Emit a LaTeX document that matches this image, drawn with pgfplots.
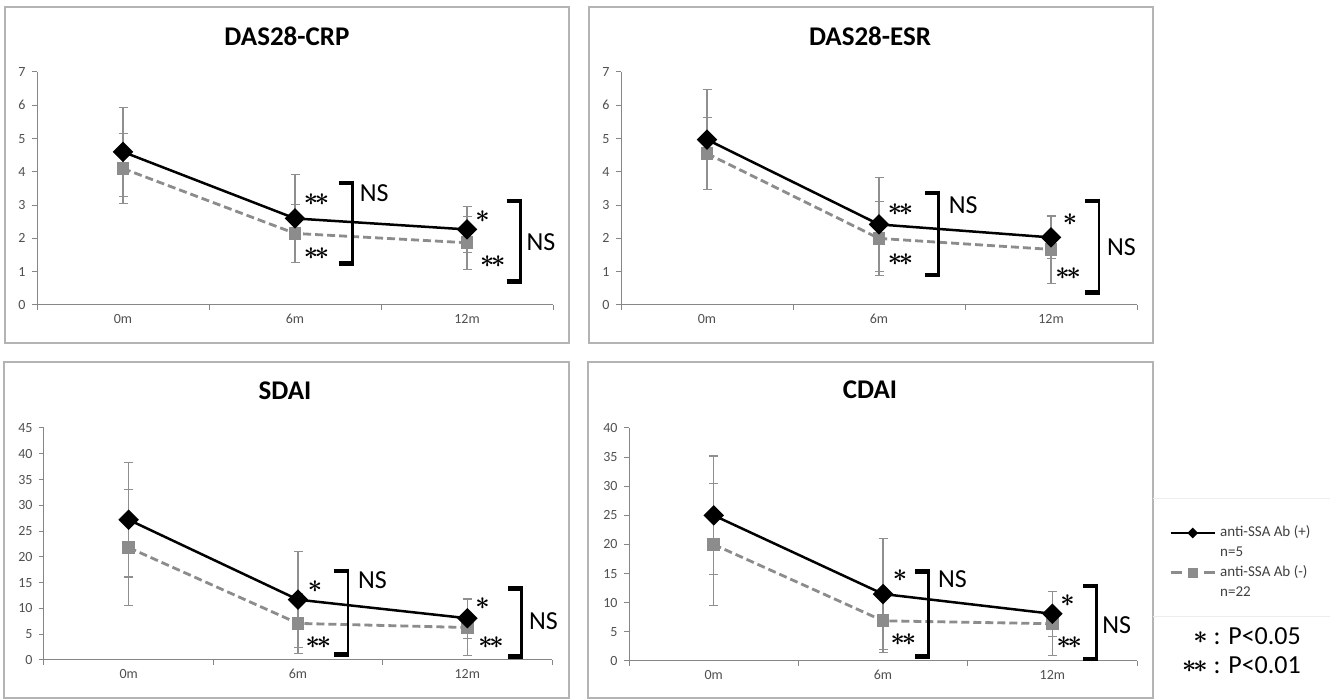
\documentclass[border=0pt]{standalone}
\usepackage{fontspec}
\setmainfont{Carlito}
\usepackage{pgfplots}
\usepackage{pgfplotstable}
\pgfplotsset{compat=1.18}
\definecolor{tickgray}{HTML}{505050}
\definecolor{axisgray}{HTML}{868686}
\definecolor{framegray}{HTML}{B4B4B4}
\definecolor{errgray}{HTML}{8F8F8F}
\definecolor{sergray}{HTML}{8C8C8C}
\definecolor{leggray}{HTML}{404040}

% DAS28-CRP
\pgfplotstableread[row sep=\\]{x y e\\ 0 4.60 1.33\\ 1 2.60 1.33\\ 2 2.27 0.70\\}\crpPos
\pgfplotstableread[row sep=\\]{x y e\\ 0 4.10 1.05\\ 1 2.15 0.88\\ 2 1.87 0.80\\}\crpNeg
% DAS28-ESR
\pgfplotstableread[row sep=\\]{x y e\\ 0 4.97 1.50\\ 1 2.42 1.42\\ 2 2.03 0.62\\}\esrPos
\pgfplotstableread[row sep=\\]{x y e\\ 0 4.55 1.08\\ 1 2.00 1.12\\ 2 1.67 1.03\\}\esrNeg
% SDAI
\pgfplotstableread[row sep=\\]{x y e\\ 0 27.2 11.1\\ 1 11.7 9.3\\ 2 8.1 3.9\\}\sdaiPos
\pgfplotstableread[row sep=\\]{x y e\\ 0 21.8 11.3\\ 1 7.1 5.8\\ 2 6.3 5.4\\}\sdaiNeg
% CDAI
\pgfplotstableread[row sep=\\]{x y e\\ 0 25.0 10.2\\ 1 11.5 9.5\\ 2 8.1 3.9\\}\cdaiPos
\pgfplotstableread[row sep=\\]{x y e\\ 0 20.0 10.4\\ 1 6.9 5.5\\ 2 6.4 5.5\\}\cdaiNeg

\newcommand{\brk}[4]{%
  \draw[line width=4.5pt] (axis cs:#1,#3) -- ([xshift=1.25pt]axis cs:#2,#3);
  \draw[line width=4.5pt] (axis cs:#1,#4) -- ([xshift=1.25pt]axis cs:#2,#4);
  \draw[line width=2.5pt] ([yshift=2.25pt]axis cs:#2,#3) -- ([yshift=-2.25pt]axis cs:#2,#4);
}
\newcommand{\as}{{\boldmath$\mathord{\ast}$}}
\newcommand{\aas}{{\boldmath$\mathord{\ast}\mkern-2mu\mathord{\ast}$}}
\tikzset{
  ast/.style={font=\fontsize{30}{32}\selectfont, inner sep=0pt},
  ns/.style={font=\fontsize{26}{30}\selectfont, inner sep=0pt},
}
\pgfplotsset{
  panel/.style={
    scale only axis, clip=false,
    xmin=-0.5, xmax=2.5, ymin=0,
    axis lines*=left,
    axis line style={draw=axisgray, line width=1pt},
    tick style={draw=axisgray, line width=1pt},
    major tick length=5pt, tick align=outside,
    xtick={-0.5,0.5,1.5,2.5}, xticklabels={},
    extra x ticks={0,1,2}, extra x tick labels={0m,6m,12m},
    extra x tick style={major tick length=0pt},
    tick label style={font=\fontsize{14}{16}\selectfont, text=tickgray},
    xticklabel style={yshift=-6pt},
    yticklabel style={xshift=-3pt},
    /pgf/number format/assume math mode=true,
  },
  errs/.style={
    error bars/y dir=both, error bars/y explicit,
    error bars/error bar style={solid, line width=1.1pt, errgray},
    error bars/error mark options={rotate=90, solid, line width=1.1pt, errgray, mark size=4.5pt}},
  pos/.style={black, line width=2.5pt, solid, mark=square*, mark size=6pt,
    mark options={rotate=45, solid, fill=black, draw=black}, errs},
  neg/.style={sergray, line width=2.8pt, dash pattern=on 8pt off 4pt, mark=square*, mark size=5pt,
    mark options={solid, fill=sergray, draw=sergray}, errs},
}
\begin{document}
\begin{tikzpicture}
\useasboundingbox (0pt,0pt) rectangle (1330pt,700pt);
\fill[white] (0pt,0pt) rectangle (1330pt,700pt);
% frames
\draw[framegray, line width=1.5pt] (5pt,693pt) rectangle (569pt,357pt);
\draw[framegray, line width=1.5pt] (589pt,693pt) rectangle (1153pt,357pt);
\draw[framegray, line width=1.5pt] (4pt,338pt) rectangle (569pt,2pt);
\draw[framegray, line width=1.5pt] (588pt,338pt) rectangle (1153pt,2pt);
% titles
\node[anchor=base, font=\bfseries\fontsize{27}{32}\selectfont, inner sep=0pt] at (287pt,654pt) {DAS28-CRP};
\node[anchor=base, font=\bfseries\fontsize{27}{32}\selectfont, inner sep=0pt] at (870pt,654pt) {DAS28-ESR};
\node[anchor=base, font=\bfseries\fontsize{27}{32}\selectfont, inner sep=0pt] at (285pt,300pt) {SDAI};
\node[anchor=base, font=\bfseries\fontsize{27}{32}\selectfont, inner sep=0pt] at (870pt,301pt) {CDAI};

% ---------- DAS28-CRP ----------
\begin{axis}[panel, at={(37pt,395pt)}, anchor=south west, width=516pt, height=233pt,
  ymax=7, ytick={0,1,...,7}]
\addplot[neg] table[x=x, y=y, y error=e] {\crpNeg};
\addplot[pos] table[x=x, y=y, y error=e] {\crpPos};
\node[ast] at (axis cs:1.125,3.17) {\aas};
\node[ast] at (axis cs:1.125,1.53) {\aas};
\brk{1.255}{1.335}{3.67}{1.25}
\node[ns] at (axis cs:1.46,3.37) {NS};
\node[ast] at (axis cs:2.09,2.65) {\as};
\node[ast] at (axis cs:2.15,1.30) {\aas};
\brk{2.23}{2.31}{3.13}{0.70}
\node[ns] at (axis cs:2.43,1.90) {NS};
\end{axis}

% ---------- DAS28-ESR ----------
\begin{axis}[panel, at={(621pt,395pt)}, anchor=south west, width=516pt, height=233pt,
  ymax=7, ytick={0,1,...,7}]
\addplot[neg] table[x=x, y=y, y error=e] {\esrNeg};
\addplot[pos] table[x=x, y=y, y error=e] {\esrPos};
\node[ast] at (axis cs:1.125,2.87) {\aas};
\node[ast] at (axis cs:1.125,1.35) {\aas};
\brk{1.27}{1.345}{3.37}{0.90}
\node[ns] at (axis cs:1.49,3.00) {NS};
\node[ast] at (axis cs:2.11,2.55) {\as};
\node[ast] at (axis cs:2.10,0.95) {\aas};
\brk{2.20}{2.28}{3.13}{0.37}
\node[ns] at (axis cs:2.41,1.75) {NS};
\end{axis}

% ---------- SDAI ----------
\begin{axis}[panel, at={(44pt,40pt)}, anchor=south west, width=508pt, height=232pt,
  ymax=45, ytick={0,5,...,45}]
\addplot[neg] table[x=x, y=y, y error=e] {\sdaiNeg};
\addplot[pos] table[x=x, y=y, y error=e] {\sdaiPos};
\node[ast] at (axis cs:1.10,14.2) {\as};
\node[ast] at (axis cs:1.12,3.4) {\aas};
\brk{1.21}{1.295}{17.3}{1.1}
\node[ns] at (axis cs:1.44,15.5) {NS};
\node[ast] at (axis cs:2.09,11.0) {\as};
\node[ast] at (axis cs:2.14,3.4) {\aas};
\brk{2.24}{2.32}{13.9}{0.65}
\node[ns] at (axis cs:2.45,7.6) {NS};
\end{axis}

% ---------- CDAI ----------
\begin{axis}[panel, at={(629pt,39pt)}, anchor=south west, width=508pt, height=233pt,
  ymax=40, ytick={0,5,...,40},
  legend style={at={(1.063,0.4206)}, anchor=west, draw=none, fill=none,
    font=\fontsize{15}{18}\selectfont, text=leggray, inner sep=0pt,
    row sep=5.5pt, column sep=4pt,
    nodes={inner sep=0pt, text height=11pt, text depth=3.5pt}},
  legend cell align=left,
  legend image code/.code={\draw[mark repeat=2,mark phase=2,#1] plot coordinates {(0pt,0pt) (22pt,0pt) (44pt,0pt)};}]
\addlegendimage{black, line width=2.5pt, mark=square*, mark size=2.6pt, mark options={rotate=45,solid,fill=black}}
\addlegendentry{anti-SSA Ab (+)}
\addlegendimage{empty legend}
\addlegendentry{n=5}
\addlegendimage{sergray, line width=3pt, dash pattern=on 11pt off 22pt, mark=square*, mark size=3.6pt, mark options={solid,fill=sergray,draw=sergray}}
\addlegendentry{anti-SSA Ab (-)}
\addlegendimage{empty legend}
\addlegendentry{n=22}
\addplot[forget plot, neg] table[x=x, y=y, y error=e] {\cdaiNeg};
\addplot[forget plot, pos] table[x=x, y=y, y error=e] {\cdaiPos};
\node[ast] at (axis cs:1.10,14.7) {\as};
\node[ast] at (axis cs:1.12,3.7) {\aas};
\brk{1.19}{1.27}{15.4}{0.8}
\node[ns] at (axis cs:1.41,14.0) {NS};
\node[ast] at (axis cs:2.09,10.4) {\as};
\node[ast] at (axis cs:2.10,3.15) {\aas};
\brk{2.18}{2.26}{12.9}{0.3}
\node[ns] at (axis cs:2.38,6.2) {NS};
\end{axis}

% faint legend box lines
\draw[black!7, line width=1pt] (1153pt,201pt) -- (1330pt,201pt);
\draw[black!7, line width=1pt] (1153pt,83pt) -- (1330pt,83pt);
% significance key
\node[anchor=base east, font=\fontsize{26}{30}\selectfont, inner sep=0pt] at (1301pt,55pt) {{\fontsize{29}{30}\selectfont\raisebox{1pt}{\as}} : P<0.05};
\node[anchor=base east, font=\fontsize{26}{30}\selectfont, inner sep=0pt] at (1301pt,26pt) {{\fontsize{29}{30}\selectfont\raisebox{1pt}{\aas}} : P<0.01};
\end{tikzpicture}
\end{document}
